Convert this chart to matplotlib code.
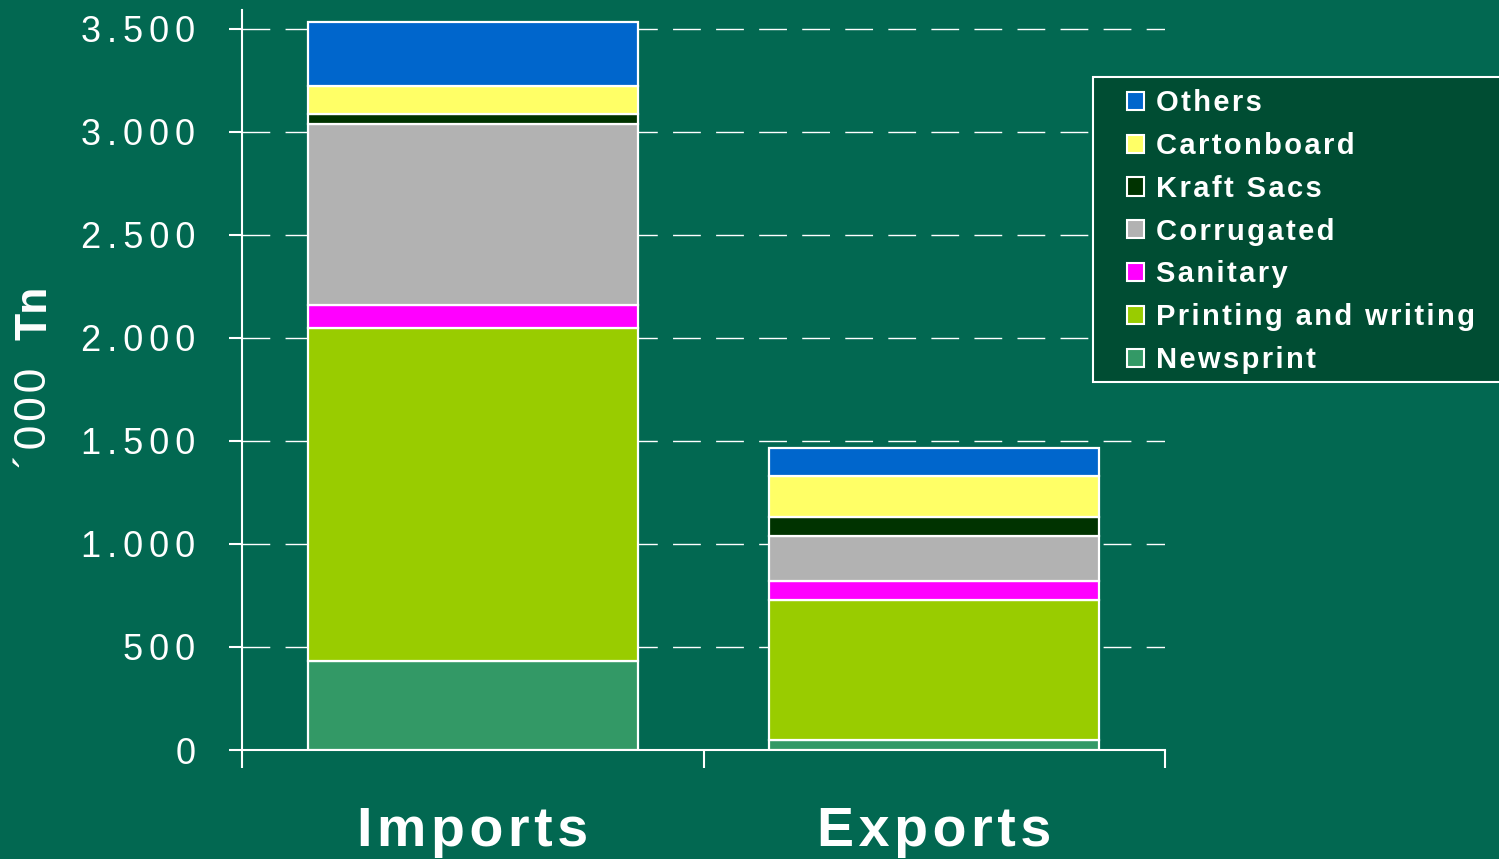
import matplotlib.pyplot as plt
from matplotlib.patches import Patch, Rectangle

# data ('000 Tn)
groups = ['Imports', 'Exports']
series = ['Newsprint', 'Printing and writing', 'Sanitary', 'Corrugated',
          'Kraft Sacs', 'Cartonboard', 'Others']
newsprint = [430, 50]
printing = [1620, 680]
sanitary = [110, 90]
corrugated = [880, 220]
kraft = [48, 92]
cartonboard = [135, 200]
others = [310, 135]
colors = ['#339966', '#99CC00', '#FF00FF', '#B2B2B2', '#003300', '#FFFF66', '#0066CC']
yticks = [0, 500, 1000, 1500, 2000, 2500, 3000, 3500]
ytick_labels = ['0', '500', '1.000', '1.500', '2.000', '2.500', '3.000', '3.500']

bg = '#026851'
legend_bg = '#004D33'
plt.rcParams['font.family'] = ['Liberation Sans', 'DejaVu Sans']

HAIR = '\u200a'


def spaced(s, sep=HAIR):
    # the original uses wide letter spacing
    return sep.join(s)


W, H = 1499, 859
fig = plt.figure(figsize=(W / 100, H / 100), dpi=100, facecolor=bg)
ax = fig.add_axes([242 / W, 1 - 750 / H, (1165 - 242) / W, (750 - 10) / H])
ax.set_facecolor(bg)

values = [newsprint, printing, sanitary, corrugated, kraft, cartonboard, others]
x = [0, 1]
bottom = [0, 0]
for name, vals, c in zip(series, values, colors):
    ax.bar(x, vals, bottom=bottom, width=0.715, color=c, edgecolor='white',
           linewidth=1.6, zorder=3, label=name)
    bottom = [b + v for b, v in zip(bottom, vals)]

ax.set_xlim(-0.5, 1.5)
ax.set_ylim(0, 3592)
ax.set_yticks(yticks)
ax.set_yticklabels([spaced(t, HAIR * 2) for t in ytick_labels], fontsize=26, color='white')
ax.yaxis.grid(True, color='white', linestyle=(0, (20, 11)), linewidth=1.0, zorder=1)
ax.tick_params(axis='y', length=9.5, width=1.5, color='white', pad=24)

# category separators as x ticks
ax.set_xticks([-0.5, 0.5, 1.5], minor=True)
ax.tick_params(axis='x', which='minor', length=13, width=1.5, color='white')
ax.set_xticks(x)
ax.set_xticklabels([spaced(g) for g in groups], fontsize=40,
                   fontweight='bold', color='white')
ax.tick_params(axis='x', which='major', length=0, pad=40)

for side in ['top', 'right']:
    ax.spines[side].set_visible(False)
for side in ['left', 'bottom']:
    ax.spines[side].set_color('white')
    ax.spines[side].set_linewidth(1.5)

# y label: regular "´000" and bold "Tn"
fig.text(35 / W, 1 - 418 / H, spaced('´000'), rotation=90, fontsize=32,
         color='white', ha='center', va='center')
fig.text(35 / W, 1 - 313 / H, 'Tn', rotation=90, fontsize=32, color='white',
         fontweight='bold', ha='center', va='center')

# legend box drawn by hand so it runs off the right edge like the original
fig.patches.append(Rectangle((1093 / W, 1 - 382 / H), (1520 - 1093) / W, (382 - 77) / H,
                             transform=fig.transFigure, facecolor=legend_bg,
                             edgecolor='white', linewidth=1.5, zorder=0))
handles = [Patch(facecolor=c, edgecolor='white', linewidth=1.5, label=spaced(n))
           for n, c in zip(series, colors)][::-1]
leg = fig.legend(handles=handles, loc='upper left',
                 bbox_to_anchor=(1127 / W, 1 - 89 / H),
                 prop={'weight': 'bold', 'size': 21}, labelcolor='white',
                 frameon=False, handlelength=0.58, handleheight=0.58,
                 handletextpad=0.42, labelspacing=0.51, borderpad=0,
                 borderaxespad=0)

fig.savefig('out.png', dpi=100, facecolor=bg)
